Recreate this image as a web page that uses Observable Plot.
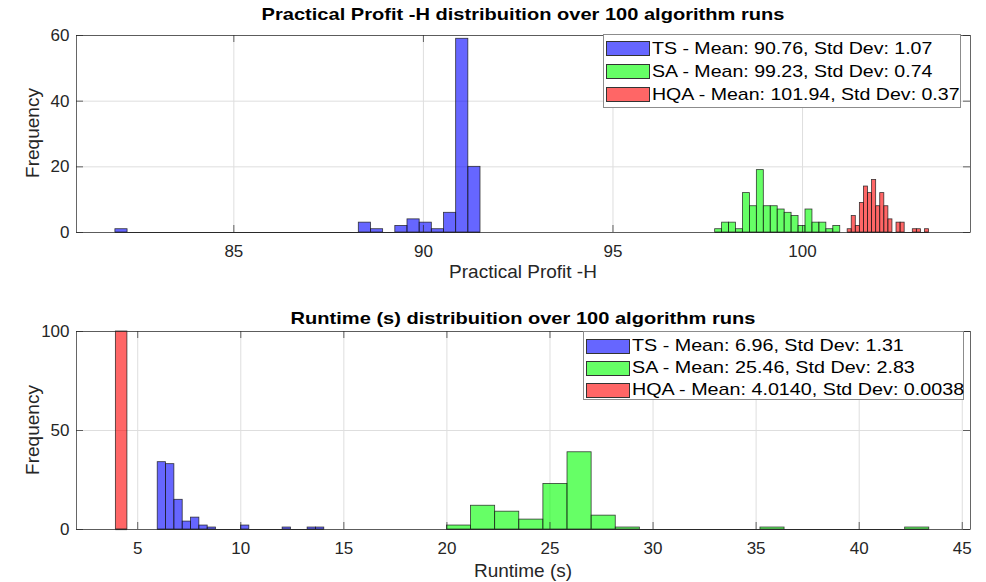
<!DOCTYPE html>
<html><head><meta charset="utf-8">
<script src="https://cdn.jsdelivr.net/npm/d3@7"></script>
<script src="https://cdn.jsdelivr.net/npm/@observablehq/plot@0.6"></script>
<style>
body{margin:0;background:#fff;font-family:"Liberation Sans",Arial,Helvetica,sans-serif;}
#wrap{position:relative;width:986px;height:582px;overflow:hidden;background:#fff;}
.chart{position:absolute;left:0;}
.title{position:absolute;font-weight:bold;font-size:17px;color:#000;transform:translate(-50%,-50%) scaleX(1.18);white-space:nowrap;}
.xlabel{position:absolute;font-size:19px;color:#262626;transform:translate(-50%,-50%);white-space:nowrap;}
.ylabel{position:absolute;font-size:19px;color:#262626;transform:translate(-50%,-50%) rotate(-90deg);white-space:nowrap;}
.legend{position:absolute;background:#fff;border:1px solid #8c8c8c;box-sizing:border-box;font-size:17px;color:#000;}
.row{display:flex;align-items:center;white-space:nowrap;}
.row span{display:inline-block;transform-origin:0 50%;}
.sw{width:44px;height:15px;border:1px solid #333;box-sizing:border-box;margin:0 2px 0 2px;flex:none;}
</style></head><body><div id="wrap"></div>
<script>
// ---------- DATA ----------
const seriesNames = ["TS", "SA", "HQA"];
const seriesColors = ["#0000ff", "#00ff00", "#ff0000"];

// Practical Profit -H histograms: bin start, bin width, counts
const profitTsStart = 81.876, profitTsWidth = 0.321;
const profitTsCounts = [1,0,0,0,0,0,0,0,0,0,0,0,0,0,0,0,0,0,0,0,3,1,0,2,4,3,1,6,59,20];
const profitSaStart = 97.695, profitSaWidth = 0.1833;
const profitSaCounts = [1,3,3,1,12,8,19,8,8,7,6,5,2,7,3,3,1,2];
const profitHqaStart = 101.19, profitHqaWidth = 0.1074;
const profitHqaCounts = [1,5,2,9,14,12,16,8,12,8,4,0,3,3,0,0,1,1,0,1];

// Runtime (s) histograms
const runTsStart = 5.97, runTsWidth = 0.404;
const runTsCounts = [34,33,15,4,6,2,1,0,0,0,2,0,0,0,0,1,0,0,1,1];
const runSaStart = 20.0, runSaWidth = 1.17;
const runSaCounts = [2,12,9,5,23,39,7,1,0,0,0,0,0,1,0,0,0,0,0,1];
const runHqaStart = 3.94, runHqaWidth = 0.56;
const runHqaCounts = [100];

// Legend texts
const profitLegend = ["TS - Mean: 90.76, Std Dev: 1.07", "SA - Mean: 99.23, Std Dev: 0.74", "HQA - Mean: 101.94, Std Dev: 0.37"];
const runLegend = ["TS - Mean: 6.96, Std Dev: 1.31", "SA - Mean: 25.46, Std Dev: 2.83", "HQA - Mean: 4.0140, Std Dev: 0.0038"];

// Axes
const profitXDomain = [80.85, 104.43], profitXTicks = [85, 90, 95, 100];
const profitYDomain = [0, 60], profitYTicks = [0, 20, 40, 60];
const runXDomain = [2.03, 45.4], runXTicks = [5, 10, 15, 20, 25, 30, 35, 40, 45];
const runYDomain = [0, 100], runYTicks = [0, 50, 100];

// ---------- BUILD ----------
function bins(name, start, width, counts) {
  return counts.map((c, i) => ({series: name, x1: start + i * width, x2: start + (i + 1) * width, y: c}));
}
function spans(list) {
  return list.map(([name, start, width, counts]) => ({series: name, x1: start, x2: start + counts.length * width}));
}

const W = 986, ML = 76, MR = 16;

function chart({list, xDomain, xTicks, yDomain, yTicks, height, marginTop, marginBottom}) {
  const data = list.flatMap(([n, s, w, c]) => bins(n, s, w, c));
  const plotH = height - marginTop - marginBottom;
  const plotW = W - ML - MR;
  const tick = 7;
  return Plot.plot({
    width: W, height, marginLeft: ML, marginRight: MR, marginTop, marginBottom,
    style: {fontFamily: '"Liberation Sans", Arial, Helvetica, sans-serif', fontSize: "17px", color: "#262626", background: "transparent"},
    x: {domain: xDomain, label: null},
    y: {domain: yDomain, label: null},
    color: {domain: seriesNames, range: seriesColors},
    marks: [
      Plot.gridX(xTicks, {stroke: "#dedede", strokeOpacity: 1, strokeWidth: 1}),
      Plot.gridY(yTicks, {stroke: "#dedede", strokeOpacity: 1, strokeWidth: 1}),
      Plot.rectY(data.filter(d => d.y > 0), {x1: "x1", x2: "x2", y1: 0, y2: "y", fill: "series", fillOpacity: 0.6, stroke: "#1a1a1a", strokeWidth: 0.8, strokeOpacity: 0.85}),
      Plot.ruleY(spans(list), {x1: "x1", x2: "x2", y: 0, stroke: "#333", strokeWidth: 1.2}),
      Plot.frame({stroke: "#262626", strokeWidth: 0.7}),
      Plot.tickX(xTicks, {x: d => d, insetTop: plotH - tick, stroke: "#262626", strokeWidth: 0.7}),
      Plot.tickX(xTicks, {x: d => d, insetBottom: plotH - tick, stroke: "#262626", strokeWidth: 0.7}),
      Plot.tickY(yTicks, {y: d => d, insetRight: plotW - tick, stroke: "#262626", strokeWidth: 0.7}),
      Plot.tickY(yTicks, {y: d => d, insetLeft: plotW - tick, stroke: "#262626", strokeWidth: 0.7}),
      Plot.axisX({ticks: xTicks, tickSize: 0, tickPadding: 12, label: null, fill: "#262626"}),
      Plot.axisY({ticks: yTicks, tickSize: 0, tickPadding: 7, label: null, fill: "#262626"})
    ]
  });
}

const wrap = document.getElementById("wrap");
function place(el, top) { el.classList.add("chart"); el.style.top = top + "px"; wrap.appendChild(el); }

place(chart({
  list: [["TS", profitTsStart, profitTsWidth, profitTsCounts], ["SA", profitSaStart, profitSaWidth, profitSaCounts], ["HQA", profitHqaStart, profitHqaWidth, profitHqaCounts]],
  xDomain: profitXDomain, xTicks: profitXTicks, yDomain: profitYDomain, yTicks: profitYTicks,
  height: 291, marginTop: 35, marginBottom: 59
}), 0);

place(chart({
  list: [["TS", runTsStart, runTsWidth, runTsCounts], ["SA", runSaStart, runSaWidth, runSaCounts], ["HQA", runHqaStart, runHqaWidth, runHqaCounts]],
  xDomain: runXDomain, xTicks: runXTicks, yDomain: runYDomain, yTicks: runYTicks,
  height: 291, marginTop: 40, marginBottom: 53
}), 291);

function addText(cls, text, x, y) {
  const d = document.createElement("div");
  d.className = cls; d.textContent = text;
  d.style.left = x + "px"; d.style.top = y + "px";
  wrap.appendChild(d);
}
addText("title", "Practical Profit -H distribuition over 100 algorithm runs", 523, 15);
addText("title", "Runtime (s) distribuition over 100 algorithm runs", 523, 319);
addText("xlabel", "Practical Profit -H", 523, 272);
addText("xlabel", "Runtime (s)", 523, 571);
addText("ylabel", "Frequency", 33, 133);
addText("ylabel", "Frequency", 33, 430);

function legend(texts, left, top, width, height, rowH, padTop, stretch) {
  const box = document.createElement("div");
  box.className = "legend";
  Object.assign(box.style, {left: left + "px", top: top + "px", width: width + "px", height: height + "px", paddingTop: padTop + "px"});
  texts.forEach((t, i) => {
    const r = document.createElement("div");
    r.className = "row"; r.style.height = rowH + "px";
    const sw = document.createElement("div");
    sw.className = "sw";
    const c = d3.color(seriesColors[i]);
    sw.style.background = `rgba(${c.r},${c.g},${c.b},0.6)`;
    const s = document.createElement("span"); s.textContent = t;
    s.style.transform = `scaleX(${stretch})`;
    r.appendChild(sw); r.appendChild(s); box.appendChild(r);
  });
  wrap.appendChild(box);
}
legend(profitLegend, 603, 34, 358, 74, 23, 2, 1.15);
legend(runLegend, 583, 331, 381, 69, 22, 3, 1.16);
</script></body></html>
